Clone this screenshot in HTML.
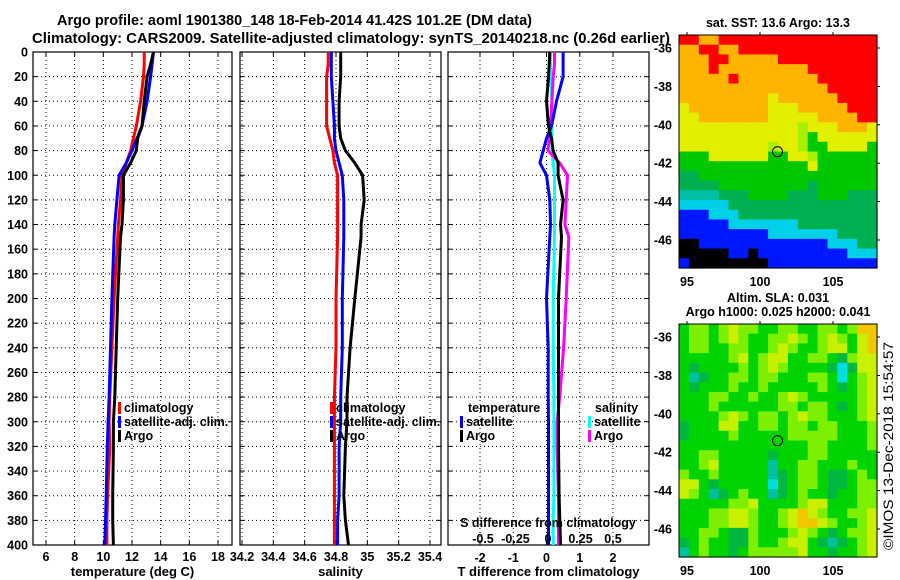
<!DOCTYPE html>
<html><head><meta charset="utf-8">
<style>
html,body{margin:0;padding:0;background:#fff;}
svg{display:block;font-family:"Liberation Sans",sans-serif;font-weight:bold;}
</style></head>
<body>
<svg id="fig" width="900" height="580" viewBox="0 0 900 580" xmlns="http://www.w3.org/2000/svg">
<rect width="900" height="580" fill="#fff"/>
<text x="57" y="25" font-size="14.5" textLength="475" lengthAdjust="spacingAndGlyphs">Argo profile: aoml 1901380_148 18-Feb-2014 41.42S 101.2E (DM data)</text>
<text x="32" y="43" font-size="14.5" textLength="638" lengthAdjust="spacingAndGlyphs">Climatology: CARS2009. Satellite-adjusted climatology: synTS_20140218.nc (0.26d earlier)</text>
<g id="g"></g>
</svg>
<script>
// ---- data ----
const depths = [0,10,20,40,60,70,80,90,100,120,140,150,200,240,280,300,320,360,380,400];
const tempClim = [12.85,12.85,12.8,12.6,12.3,12.1,11.9,11.6,11.3,11.2,11.05,11.0,10.75,10.6,10.45,10.4,10.45,10.3,10.25,10.25];
const tempSat  = [13.5,13.4,13.3,13.05,12.7,12.35,12.0,11.6,11.1,10.95,10.8,10.75,10.6,10.5,10.4,10.33,10.28,10.2,10.15,10.1];
const tempArgo = [13.5,13.3,13.05,12.85,12.7,12.4,12.3,11.9,11.4,11.4,11.3,11.2,11.0,10.9,10.8,10.7,10.7,10.65,10.65,10.7];
const salClim = [34.75,34.75,34.74,34.74,34.74,34.76,34.78,34.79,34.81,34.81,34.81,34.81,34.80,34.80,34.79,34.79,34.79,34.79,34.79,34.79];
const salSat  = [34.77,34.77,34.77,34.78,34.79,34.79,34.80,34.82,34.84,34.85,34.85,34.85,34.84,34.84,34.83,34.83,34.82,34.82,34.81,34.81];
const salArgo = [34.83,34.83,34.83,34.82,34.82,34.83,34.86,34.92,34.97,34.98,34.96,34.96,34.92,34.89,34.87,34.87,34.86,34.85,34.86,34.88];
const dTSat  = [0.5,0.5,0.5,0.3,0.15,0.0,-0.1,-0.2,0.0,0.1,0.12,0.1,0.0,0.05,0.05,0.06,0.06,0.06,0.06,0.06];
const dTArgo = [0.1,0.08,0.06,0.0,0.06,0.15,0.2,0.35,0.35,0.5,0.42,0.45,0.36,0.36,0.36,0.36,0.36,0.38,0.4,0.42];
const dSSat  = [0.02,0.02,0.02,0.03,0.03,0.03,0.03,0.04,0.05,0.05,0.05,0.05,0.04,0.04,0.045,0.045,0.045,0.045,0.04,0.04];
const dSArgo = [0.05,0.05,0.04,0.03,0.02,0.01,0.0,0.09,0.15,0.14,0.13,0.16,0.14,0.12,0.09,0.07,0.07,0.08,0.08,0.08];
const depthTicks = [0,20,40,60,80,100,120,140,160,180,200,220,240,260,280,300,320,340,360,380,400];
const tempTicks = [6,8,10,12,14,16,18];
const salTicks = [34.2,34.4,34.6,34.8,35,35.2,35.4];
const tdTicks = [-2,-1,0,1,2];
const sdTicks = [-0.5,-0.25,0,0.25,0.5];
const lonTicks = [95,100,105];
const latTicks = [-36,-38,-40,-42,-44,-46];
const sstRows = [
"RROORRRRRRRRRRRRRRRR","OORROORRRRRRRRRRRRRR","OOORROOOOORRRRRRRRRR","OOOROOOOOOOOORRRRRRR",
"OOOOOROOOOOOOORRRRRR","OOOOOOOOOOOOOOORRRRR","OOOOOOOOOYOOOOOORRRR","YOOOOOOOOYYYOOOOORRR",
"YYOOOOOOOYYYYYOOOORR","YYYYYYYYYYYYLYYYOOOY","YYYYYYYYYYYYLGYYYYYY","YYYYYYYYYLYYLGGYYYYG",
"GGGYYYYYYGGYYLGGGGGG","GGGGGGGGGGGGGYGGGGGG","DDGGGGGGGGGGGGGGGGGG","DDDDGGGGGGGGGDGGGGGG",
"TTTTDDDGGGGDDDGGGDDD","CCCCCDDDDDDDDDDDDDDD","BBBCCCDDDDDDDDDDDDDD","BBBBBCCCCCCCDDDDDDDD",
"BBBBBBBBBCCCCCCCDDDD","KKBBBBBBBBBBBBBCCCDD","KKKKKBBKBBBBBBBBBCCC","BKKKKKKKKBBBBBBBBBBB"];
const slaRows = [
"GLLGLYLLGGLLGGLLGLOO","GLLGLYLGGLLYLGLYLGYO","GLLGGLLGGLYLGGLYYGYO","GGGGGLYGLYYGGLLGDLYY",
"GDGGGGLGLYLGGGGDCDYY","GTDGGLLGLLGGGLLGCGLY","GDGGGLGGLGGGGGLGDGLY","GGGLLGGLGGLYLGGGGGLY",
"GGGLGGGGGGLLGLLGDGLY","GGGGLYLGLLGLYLLGGGLY","DGGGYYGGLLGLLGLLGGGL","DGGGGLGGGGGLLLLLGGGL",
"GGGGGGGGGGGGGLLGGGGL","GGLLGGGGGDGGGLLGGGGG","GGLYGGGGGTGGLLGGGLGG","LGGLGGGGGTDGLLGDDGLG",
"YYGDGGGGGCDGLLGDDGLL","YLGTDGLGGTDGLGGDGGLL","GGGGGLLYGGGGLYYGGGLL","GGGLLYYLGGLYOYLGGLLY",
"GGGLLYYLGGLYOOYLGGLY","GGLLGDDLGGGLYLGDGLLY","DGLGGDDLGGLYYGDTDGLY","TGLGGDGLLLLLYGGDGGLY"];
const argoLon = 101.2, argoLat = -41.4;

// ---- helpers ----
const NS="http://www.w3.org/2000/svg";
const G=document.getElementById('g');
function mk(tag,attrs,parent){const e=document.createElementNS(NS,tag);for(const k in attrs)e.setAttribute(k,attrs[k]);(parent||G).appendChild(e);return e;}
function txt(x,y,s,size,anchor,parent){const t=mk('text',{x:x,y:y,'font-size':size,'text-anchor':anchor||'middle'},parent);t.textContent=s;return t;}
const top0=52, bot0=545;
const yD=d=>top0+(d/400)*(bot0-top0);
function linScale(d0,d1,r0,r1){return v=>r0+(v-d0)/(d1-d0)*(r1-r0);}

const panels=[
 {name:'temperature-panel',x0:33,x1:232,sx:linScale(6,18,46,218),ticks:tempTicks,title:'temperature (deg C)'},
 {name:'salinity-panel',x0:240,x1:441,sx:linScale(34.2,35.4,242,430),ticks:salTicks,title:'salinity'},
 {name:'difference-panel',x0:448,x1:649,sx:linScale(-2,2,480,613),ticks:tdTicks,title:'T difference from climatology'}
];
const sdScale=linScale(-0.5,0.5,483,613);

panels.forEach((p,pi)=>{
  const g=mk('g',{});
  
  
  depthTicks.forEach(d=>{
    if(d>0&&d<400) mk('line',{x1:p.x0,x2:p.x1,y1:yD(d),y2:yD(d),stroke:'#000','stroke-width':1,'stroke-dasharray':'1,3'},g);
    mk('line',{x1:p.x0,x2:p.x0+4,y1:yD(d),y2:yD(d),stroke:'#000'},g);
    mk('line',{x1:p.x1-4,x2:p.x1,y1:yD(d),y2:yD(d),stroke:'#000'},g);
    if(pi===0){const t=txt(28,yD(d)+4.5,String(d),12.5,'end',g);}
  });
  p.ticks.forEach(v=>{
    const x=p.sx(v);
    mk('line',{x1:x,x2:x,y1:top0,y2:bot0,stroke:'#000','stroke-dasharray':'1,3'},g);
    mk('line',{x1:x,x2:x,y1:top0,y2:top0+4,stroke:'#000'},g);
    mk('line',{x1:x,x2:x,y1:bot0-4,y2:bot0,stroke:'#000'},g);
    const t=txt(x,pi===2?562:561,String(v),12.5,'middle',g);
    
    
  });
  mk('rect',{x:p.x0,y:top0,width:p.x1-p.x0,height:bot0-top0,fill:'none',stroke:'#000','stroke-width':1.2},g);
  const at=txt((p.x0+p.x1)/2,576,p.title,13,'middle',g);
  
  
});

function series(vals,sx,color,name){
  const pts=vals.map((v,i)=>sx(v).toFixed(1)+','+yD(depths[i]).toFixed(1)).join(' ');
  const l=mk('polyline',{points:pts,fill:'none',stroke:color,'stroke-width':3,'stroke-linejoin':'round'});
  
  
}
series(tempClim,panels[0].sx,'#ff0000','temp-climatology-line');
series(tempSat,panels[0].sx,'#0000ff','temp-satellite-line');
series(tempArgo,panels[0].sx,'#000000','temp-argo-line');
series(salClim,panels[1].sx,'#ff0000','sal-climatology-line');
series(salSat,panels[1].sx,'#0000ff','sal-satellite-line');
series(salArgo,panels[1].sx,'#000000','sal-argo-line');
series(dSSat,sdScale,'#00ffff','sdiff-satellite-line');
series(dSArgo,sdScale,'#ff00ff','sdiff-argo-line');
series(dTSat,panels[2].sx,'#0000ff','tdiff-satellite-line');
series(dTArgo,panels[2].sx,'#000000','tdiff-argo-line');

const sdt=txt(548,527,'S difference from climatology',12.5,'middle');


sdTicks.forEach(v=>{const t=txt(sdScale(v),543,String(v),12.5,'middle');});

function legend(x,y,color,label){
  const g=mk('g',{});
  
  
  mk('rect',{x:x,y:y-10,width:3,height:12,fill:color},g);
  txt(x+6,y,label,12.5,'start',g);
}
legend(118,412,'#ff0000','climatology');legend(118,426,'#0000ff','satellite-adj. clim.');legend(118,440,'#000','Argo');
legend(330,412,'#ff0000','climatology');legend(330,426,'#0000ff','satellite-adj. clim.');legend(330,440,'#000','Argo');
txt(468,412,'temperature',12.5,'start');
legend(460,426,'#0000ff','satellite');legend(460,440,'#000','Argo');
txt(595,412,'salinity',12.5,'start');
legend(588,426,'#00ffff','satellite');legend(588,440,'#ff00ff','Argo');

const sstCol={R:'#ff0000',O:'#ffb400',Y:'#e2f000',L:'#a8f000',G:'#00c800',D:'#00b050',T:'#00c0a8',C:'#00d0e8',B:'#0018ff',K:'#000000'};
const slaCol={G:'#00d400',D:'#00b840',L:'#7cf000',Y:'#c8f000',O:'#f0c800',T:'#00c0a0',C:'#00e0e0'};
function drawMap(name,top,bottom,rows,cols,title1,title2){
  const x0=679,x1=877;
  const g=mk('g',{});
  
  
  const nr=rows.length,nc=rows[0].length;
  const cw=(x1-x0)/nc,ch=(bottom-top)/nr;
  rows.forEach((r,i)=>{for(let j=0;j<nc;j++){
    const c=mk('rect',{x:(x0+j*cw).toFixed(2),y:(top+i*ch).toFixed(2),width:(cw+0.6).toFixed(2),height:(ch+0.6).toFixed(2),fill:cols[r[j]]},g);
    
    
  }});
  const lonS=linScale(95,105,687,833);
  const latS=linScale(-36,-46,top+13,top+205);
  mk('rect',{x:x0,y:top,width:x1-x0,height:bottom-top,fill:'none',stroke:'#000','stroke-width':1},g);
  lonTicks.forEach(v=>{mk('line',{x1:lonS(v),x2:lonS(v),y1:top-3,y2:top,stroke:'#000'},g);const t=txt(lonS(v),bottom+18,String(v),12.5,'middle',g);});
  latTicks.forEach(v=>{mk('line',{x1:x1,x2:x1+3,y1:latS(v),y2:latS(v),stroke:'#000'},g);const t=txt(672,latS(v)+4.5,String(v),12.5,'end',g);});
  const c=mk('circle',{cx:lonS(argoLon),cy:latS(argoLat),r:5,fill:'none',stroke:'#000','stroke-width':1},g);
  
  
  const t1=txt(778,top-(title2?22:8),title1,12.5,'middle',g);
  
  
  if(title2){const t2=txt(778,top-8,title2,12.5,'middle',g);}
}
drawMap('sst-map',35,268,sstRows,sstCol,'sat. SST: 13.6 Argo: 13.3');
drawMap('sla-map',324,557,slaRows,slaCol,'Altim. SLA: 0.031','Argo h1000: 0.025 h2000: 0.041');
const stamp=txt(0,0,'©IMOS 13-Dec-2018 15:54:57',13.5,'middle');
stamp.setAttribute('transform','translate(893,446) rotate(-90)');
stamp.setAttribute('font-weight','normal');
stamp.setAttribute('textLength','208');
stamp.setAttribute('lengthAdjust','spacingAndGlyphs');


</script>
</body></html>
